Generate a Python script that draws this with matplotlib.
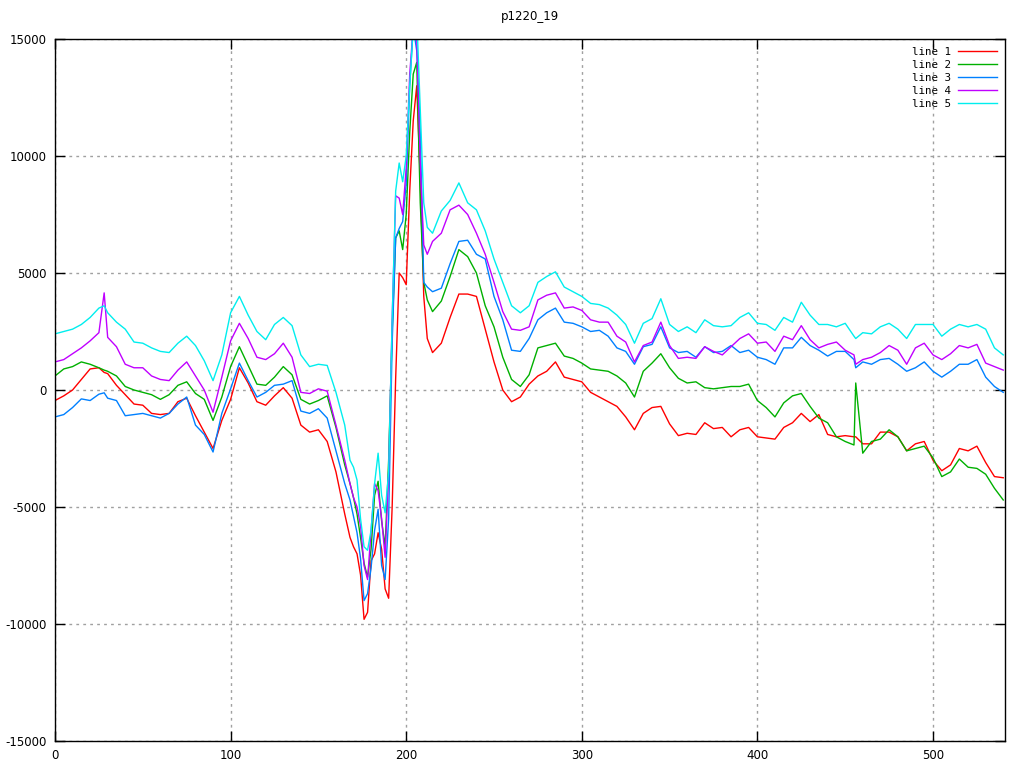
import matplotlib
matplotlib.use("Agg")
import matplotlib.pyplot as plt

# sample positions (denser around the big swing)
x = (list(range(0, 26, 5)) + [28] + list(range(30, 166, 5)) +
     list(range(168, 213, 2)) + list(range(215, 456, 5)) + [456] +
     list(range(460, 541, 5)))

line1 = [-450, -250, 0, 450, 900, 950, 750, 700, 200, -200,
         -600, -650, -1000, -1050, -1000, -500, -350, -1100, -1800, -2500,
         -1300, -400, 950, 300, -500, -650, -250, 100, -350, -1500,
         -1800, -1700, -2200, -3500, -5300,
         -6300, -6700, -7000, -7900, -9800, -9500, -7300, -7000, -6100, -6800,
         -8500, -8900, -5000, 500, 5000, 4800, 4500, 8500, 11500, 13000,
         9000, 4000, 2200,
         1600, 2000, 3100, 4100, 4100, 4000, 2600, 1200, 0, -500,
         -300, 250, 600, 800, 1200, 550, 450, 350, -100, -300,
         -500, -700, -1150, -1700, -1000, -750, -700, -1450, -1950, -1850,
         -1900, -1400, -1650, -1600, -2000, -1700, -1600, -2000, -2050, -2100,
         -1600, -1400, -1000, -1350, -1050, -1900, -2000, -1950, -2000,
         -2000,
         -2300, -2300, -1800, -1800, -2000, -2600, -2300, -2200, -3000, -3450,
         -3200, -2500, -2600, -2400, -3100, -3700, -3750]

line2 = [600, 900, 1000, 1200, 1100, 950, 850, 800, 600, 150,
         0, -100, -200, -400, -200, 200, 350, -150, -400, -1300,
         -300, 1000, 1850, 1050, 250, 200, 550, 1000, 650, -400,
         -600, -450, -250, -1600, -3200,
         -4000, -4600, -5300, -6300, -7400, -8000, -6800, -4500, -3900, -5600,
         -6700, -3000, 2500, 6500, 6800, 6000, 7500, 11000, 13500, 14000,
         8000, 4600, 3850,
         3350, 3800, 4850, 6000, 5700, 5000, 3600, 2700, 1400, 450,
         150, 650, 1800, 1900, 2000, 1450, 1350, 1150, 900, 850,
         800, 600, 300, -300, 800, 1150, 1550, 950, 500, 300,
         350, 100, 50, 100, 150, 150, 250, -450, -750, -1150,
         -550, -250, -150, -700, -1200, -1400, -2000, -2200, -2350,
         300,
         -2700, -2200, -2100, -1700, -2000, -2600, -2500, -2400, -2900, -3700,
         -3500, -2950, -3300, -3350, -3600, -4200, -4700]

line3 = [-1150, -1050, -750, -380, -450, -180, -120, -350, -450, -1100,
         -1050, -1000, -1100, -1200, -1000, -600, -300, -1500, -1900, -2650,
         -1000, 50, 1150, 400, -300, -100, 200, 250, 400, -900,
         -1000, -800, -1200, -2600, -4000,
         -4700, -5400, -6100, -7200, -9000, -8700, -7600, -6000, -5100, -7500,
         -8100, -5500, 2000, 6500, 6900, 7200, 8800, 13000, 15500, 14500,
         11000, 4600, 4400,
         4200, 4350, 5400, 6350, 6400, 5800, 5600, 4000, 3000, 1700,
         1650, 2200, 3000, 3300, 3500, 2900, 2850, 2700, 2500, 2550,
         2300, 1800, 1650, 1100, 1850, 1950, 2700, 1800, 1600, 1650,
         1400, 1850, 1600, 1650, 1900, 1600, 1700, 1400, 1300, 1100,
         1800, 1800, 2250, 1900, 1700, 1450, 1650, 1650, 1300,
         950,
         1200, 1100, 1300, 1350, 1100, 800, 950, 1200, 800, 550,
         800, 1100, 1100, 1300, 550, 150, -100]

line4 = [1200, 1300, 1550, 1800, 2100, 2450, 4150, 2250, 1850, 1100,
         950, 950, 600, 450, 400, 850, 1200, 600, 0, -950,
         550, 2100, 2850, 2200, 1400, 1300, 1550, 2000, 1400, -100,
         -150, 50, -50, -1500, -3000,
         -4000, -4600, -5000, -5800, -7500, -8100, -6000, -4000, -4300, -5500,
         -7150, -3500, 3000, 8300, 8200, 7500, 9500, 13500, 15500, 15000,
         9700, 6200, 5800,
         6350, 6700, 7700, 7900, 7500, 6700, 5800, 4600, 3350, 2600,
         2550, 2700, 3850, 4050, 4150, 3500, 3550, 3400, 3000, 2900,
         2900, 2300, 2050, 1200, 1900, 2050, 2900, 1900, 1350, 1400,
         1350, 1850, 1650, 1500, 1850, 2200, 2400, 2000, 2050, 1650,
         2300, 2150, 2750, 2150, 1800, 1950, 2050, 1700, 1500,
         1100,
         1300, 1400, 1600, 1900, 1700, 1100, 1800, 2000, 1500, 1300,
         1550, 1900, 1800, 1950, 1150, 1000, 850]

line5 = [2400, 2500, 2600, 2800, 3100, 3500, 3600, 3300, 2900, 2600,
         2050, 2000, 1800, 1650, 1600, 2000, 2300, 1900, 1250, 400,
         1500, 3300, 4000, 3200, 2500, 2150, 2800, 3100, 2750, 1500,
         1000, 1100, 1050, -100, -1500,
         -3000, -3300, -3850, -5500, -6700, -6850, -6000, -4000, -2700, -4500,
         -5250, -3500, 3000, 8500, 9700, 8900, 10000, 13000, 15500, 16000,
         12000, 8000, 6950,
         6700, 7650, 8100, 8850, 8000, 7700, 6800, 5600, 4600, 3600,
         3300, 3600, 4600, 4850, 5050, 4400, 4200, 4000, 3700, 3650,
         3500, 3200, 2800, 2000, 2850, 3050, 3900, 2800, 2500, 2700,
         2450, 3000, 2750, 2700, 2750, 3100, 3300, 2850, 2800, 2550,
         3100, 2900, 3750, 3200, 2800, 2800, 2700, 2850, 2300,
         2200,
         2450, 2400, 2700, 2850, 2600, 2200, 2800, 2800, 2800, 2300,
         2600, 2800, 2700, 2800, 2600, 1800, 1500]

series = [line1, line2, line3, line4, line5]
labels = ['line 1', 'line 2', 'line 3', 'line 4', 'line 5']
colors = ['#ff0000', '#00b000', '#0080ff', '#c000ff', '#00eeee']

plt.rcParams['font.family'] = 'DejaVu Sans'
plt.rcParams['axes.unicode_minus'] = False
fig = plt.figure(figsize=(10.24, 7.68), dpi=100)
ax = fig.add_axes([55 / 1024, 1 - 741 / 768, 950 / 1024, 702 / 768])

for s, lab, c in zip(series, labels, colors):
    ax.plot(x, s, color=c, lw=1.0, label=lab)

ax.set_xlim(0, 541)
ax.set_ylim(-15000, 15000)
ax.set_xticks(range(0, 501, 100))
ax.set_yticks(range(-15000, 15001, 5000))
ax.tick_params(direction='in', top=True, right=True, length=7, width=1,
               labelsize=8.5, pad=6)
ax.grid(True, color='#a0a0a0', linestyle=(0, (2, 3)), linewidth=1)
for sp in ax.spines.values():
    sp.set_linewidth(1)

ax.set_title('p1220_19', fontsize=8.5, pad=14)

leg = ax.legend(loc='upper right', frameon=False, markerfirst=False,
                handlelength=3.6, labelspacing=0.28, borderpad=0.2,
                borderaxespad=0.5, handletextpad=0.7,
                prop={'family': 'DejaVu Sans Mono', 'size': 7.8})

fig.savefig('out.png', dpi=100)
